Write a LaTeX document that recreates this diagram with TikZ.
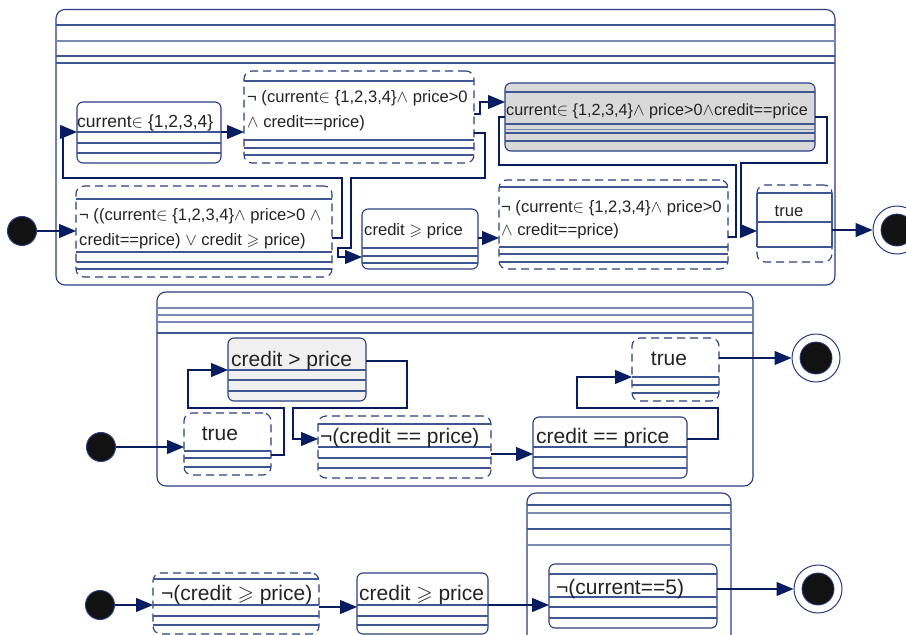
\documentclass[tikz,border=0pt]{standalone}
\usepackage{fontspec}
\setmainfont{Liberation Sans}
\usepackage{amssymb}
\usetikzlibrary{arrows.meta}
\definecolor{boxc}{RGB}{40,62,130}
\definecolor{inc}{RGB}{62,86,148}
\definecolor{incl}{RGB}{120,138,180}
\definecolor{arrc}{RGB}{8,28,98}
\definecolor{txtc}{RGB}{35,35,35}
\definecolor{grayE}{RGB}{217,217,217}
\definecolor{grayG}{RGB}{240,240,240}
\newcommand\bx[6]{\node[#2, minimum width={#5-#3}, minimum height={#6-#4}, anchor=north west] (#1) at (#3,#4) {};}
\newcommand\ils[2]{\foreach \yy in {#2} {\draw[inl] (#1.west |- 0,\yy) -- (#1.east |- 0,\yy);}}
\tikzset{
 sbox/.style={rectangle, draw=boxc, fill=white, line width=1.1pt, rounded corners=6pt, inner sep=0pt, outer sep=0pt},
 dbox/.style={sbox, rounded corners=8pt, dash pattern=on 8pt off 5pt},
 cont/.style={sbox, rounded corners=9pt},
 inl/.style={draw=inc, line width=1.1pt},
 conn/.style={draw=arrc, line width=1.2pt},
 arr/.style={conn, -{Triangle[length=17pt,width=14pt]}},
 tA/.style={inner sep=0pt, text=txtc, font=\fontsize{16.6}{20}\selectfont, anchor=base west},
 tE/.style={tA, font=\fontsize{16.2}{20}\selectfont},
 tB/.style={tA, font=\fontsize{21}{25}\selectfont},
 initst/.style={circle, fill=black!93, draw=boxc, line width=1pt, minimum size=29pt, inner sep=0pt},
 finst/.style={circle, fill=white, draw=boxc, line width=1pt, minimum size=48pt, inner sep=0pt},
 finin/.style={circle, fill=black!93, draw=boxc, line width=0.8pt, minimum size=32pt, inner sep=0pt},
}
\begin{document}
\begin{tikzpicture}[x=1pt,y=-1pt]
\fill[white] (0,0) rectangle (906,635);
\useasboundingbox (0,0) rectangle (906,635);

% ---------- containers ----------
\bx{c1}{cont}{56}{9.5}{835}{285}
\ils{c1}{25,56,63}
\draw[draw=incl, line width=1.8pt] (c1.west |- 0,41) -- (c1.east |- 0,41);
\bx{c2}{cont}{157}{292}{753}{486}
\ils{c2}{333}
\foreach \yy in {308,315,322} {\draw[draw=incl, line width=1.4pt] (c2.west |- 0,\yy) -- (c2.east |- 0,\yy);}
\bx{c3}{cont}{527}{493}{731}{650}
\ils{c3}{505,529}
\foreach \yy in {513,545} {\draw[draw=incl, line width=1.4pt] (c3.west |- 0,\yy) -- (c3.east |- 0,\yy);}

% ---------- top row states ----------
\bx{A}{sbox}{77}{102}{221}{163}
\ils{A}{132,143,153}
\bx{C}{dbox}{244}{71}{474}{163}
\ils{C}{81,140,148,155}
\bx{B}{dbox}{76}{186}{332}{277}
\ils{B}{199,252,262,269}
\bx{D}{sbox}{362}{209}{478}{269}
\ils{D}{248,256,263}
\bx{E}{sbox, fill=grayE}{505}{83}{815}{151}
\ils{E}{92,124,133,141}
\draw[draw=incl, line width=1pt] (E.west |- 0,129) -- (E.east |- 0,129);
\bx{F}{dbox}{499}{180}{728}{269}
\ils{F}{187,247,254,262}
\bx{T1}{dbox}{757}{185}{832}{262}
\ils{T1}{193,222,247}
\draw[inl] (T1.west |- 0,193) -- (T1.west |- 0,247);
\draw[inl] (T1.east |- 0,193) -- (T1.east |- 0,247);

% ---------- middle row states ----------
\bx{G}{sbox, fill=grayG}{228}{338}{366}{401}
\ils{G}{370,380,391}
\bx{T2}{dbox}{184}{413}{271}{475}
\ils{T2}{451,458,467}
\bx{H}{dbox}{318}{416}{491}{478}
\ils{H}{424,447,458,468}
\bx{I}{sbox}{533}{417}{687}{478}
\ils{I}{447,457,468}
\bx{T3}{dbox}{632}{338}{719}{401}
\ils{T3}{377,385,393}

% ---------- bottom row states ----------
\bx{J}{dbox}{153}{573}{319}{634}
\ils{J}{579,605,616,625}
\bx{K}{sbox}{357}{573}{488}{634}
\ils{K}{605,616,625}
\bx{L}{sbox}{549}{564}{717}{628}
\ils{L}{574,597,607,618}

% ---------- pseudo states ----------
\node[initst] (i1) at (22,231) {};
\node[initst] (i2) at (101,447) {};
\node[initst] (i3) at (100,605) {};
\node[finst] (f1) at (897,230) {};
\node[finin] (f1i) at (f1) {};
\node[finst] (f2) at (816,358) {};
\node[finin] (f2i) at (f2) {};
\node[finst] (f3) at (818,589) {};
\node[finin] (f3i) at (f3) {};

% ---------- texts ----------
\node[tA, font=\fontsize{17.5}{21}\selectfont] (At) at (77,127) {current$\in$ \{1,2,3,4\}};
\node[tA] (Ct1) at (247,102) {¬ (current$\in$ \{1,2,3,4\}$\wedge$ price>0};
\node[tA] (Ct2) at (247,127) {$\wedge$ credit==price)};
\node[tA] (Bt1) at (79,220) {¬ ((current$\in$ \{1,2,3,4\}$\wedge$ price>0 $\wedge$};
\node[tA] (Bt2) at (79,245) {credit==price) $\vee$ credit $\geqslant$ price)};
\node[tA] (Dt) at (364,235) {credit $\geqslant$ price};
\node[tE] (Et) at (506,115) {current$\in$ \{1,2,3,4\}$\wedge$ price>0$\wedge$credit==price};
\node[tA] (Ft1) at (501,212) {¬ (current$\in$ \{1,2,3,4\}$\wedge$ price>0};
\node[tA] (Ft2) at (501,235) {$\wedge$ credit==price)};
\node[tA, anchor=base] (T1t) at (789,216) {true};
\node[tB] (Gt) at (231,366) {credit > price};
\node[tB, anchor=base] (T2t) at (220,440) {true};
\node[tB] (Ht) at (320,443) {¬(credit == price)};
\node[tB] (It) at (536,443) {credit == price};
\node[tB, anchor=base] (T3t) at (669,365) {true};
\node[tB] (Jt) at (161,600) {¬(credit $\geqslant$ price)};
\node[tB] (Kt) at (359,600) {credit $\geqslant$ price};
\node[tB] (Lt) at (556,594) {¬(current==5)};

% ---------- connectors: top ----------
\draw[arr] (i1) -- (B.west |- i1);
\draw[arr] (B.east |- 0,238) -- (342,238) -- (342,178) -- (63,178) -- (63,132) -- (A.west |- 0,132);
\draw[arr] (A.east |- 0,132) -- (C.west |- 0,132);
\draw[arr] (C.east |- 0,114) -- (480,114) -- (480,102) -- (E.west |- 0,102);
\draw[arr] (C.east |- 0,133) -- (485,133) -- (485,178) -- (351,178) -- (351,248) -- (338,248) -- (338,257) -- (D.west |- 0,257);
\draw[arr] (D.east |- 0,238) -- (F.west |- 0,238);
\draw[conn] (F.east |- 0,237) -- (736,237) -- (736,165) -- (499,165) -- (499,117) -- (E.west |- 0,117);
\draw[arr] (E.east |- 0,117) -- (827,117) -- (827,163) -- (741,163) -- (741,231) -- (T1.west |- 0,231);
\draw[arr] (T1.east |- f1) -- (f1);

% ---------- connectors: middle ----------
\draw[arr] (i2) -- (T2.west |- i2);
\draw[arr] (T2.east |- 0,455) -- (284,455) -- (284,408) -- (188,408) -- (188,370) -- (G.west |- 0,370);
\draw[arr] (G.east |- 0,361) -- (407,361) -- (407,408) -- (293,408) -- (293,439) -- (H.west |- 0,439);
\draw[arr] (H.east |- 0,454) -- (I.west |- 0,454);
\draw[arr] (I.east |- 0,439) -- (718,439) -- (718,408) -- (577,408) -- (577,377) -- (T3.west |- 0,377);
\draw[arr] (T3.east |- f2) -- (f2);

% ---------- connectors: bottom ----------
\draw[arr] (i3) -- (J.west |- i3);
\draw[arr] (J.east |- 0,607) -- (K.west |- 0,607);
\draw[arr] (K.east |- 0,605) -- (L.west |- 0,605);
\draw[arr] (L.east |- f3) -- (f3);
\end{tikzpicture}
\end{document}
